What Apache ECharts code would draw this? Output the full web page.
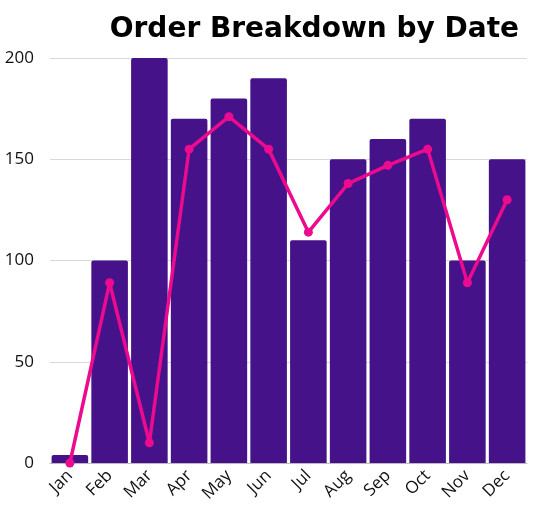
<!DOCTYPE html>
<html><head><meta charset="utf-8">
<script src="https://cdn.jsdelivr.net/npm/echarts@6/dist/echarts.min.js"></script>
<style>html,body{margin:0;padding:0;background:#fff}#c{width:535px;height:518px}</style>
</head><body><div id="c"></div>
<script>
const categories = ['Jan','Feb','Mar','Apr','May','Jun','Jul','Aug','Sep','Oct','Nov','Dec'];
const barValues = [4, 100, 200, 170, 180, 190, 110, 150, 160, 170, 100, 150];
const lineValues = [0, 89, 10, 155, 171, 155, 114, 138, 147, 155, 89, 130];
const yTicks = [0, 50, 100, 150, 200];

const chart = echarts.init(document.getElementById('c'), null, {renderer: 'canvas'});
chart.setOption({
  animation: false,
  title: {
    text: 'Order Breakdown by Date',
    right: 11, top: 11,
    textStyle: {fontFamily: 'DejaVu Sans', fontWeight: 'bold', fontSize: 28, color: '#000'}
  },
  grid: {left: 50, right: 8, top: 58, bottom: 55, containLabel: false},
  xAxis: {
    type: 'category', data: categories,
    axisLine: {lineStyle: {color: '#bbb', width: 1}},
    axisTick: {show: false},
    axisLabel: {rotate: 45, fontFamily: 'Open Sans', fontSize: 17, color: '#111', margin: 10}
  },
  yAxis: {
    type: 'value', min: 0, max: 200, interval: 50,
    axisLabel: {fontFamily: 'Open Sans', fontSize: 17, color: '#111', margin: 16, align: 'right'},
    splitLine: {lineStyle: {color: '#d9d9d9', width: 1}},
    axisLine: {show: false}, axisTick: {show: false}
  },
  series: [
    {
      type: 'bar', data: barValues, barCategoryGap: '8%',
      itemStyle: {color: '#45128a', borderRadius: [2, 2, 0, 0]}
    },
    {
      type: 'line', data: lineValues,
      symbol: 'circle', symbolSize: 9,
      lineStyle: {color: '#ec0b8e', width: 3.5},
      itemStyle: {color: '#ec0b8e'}
    }
  ]
});
</script></body></html>
